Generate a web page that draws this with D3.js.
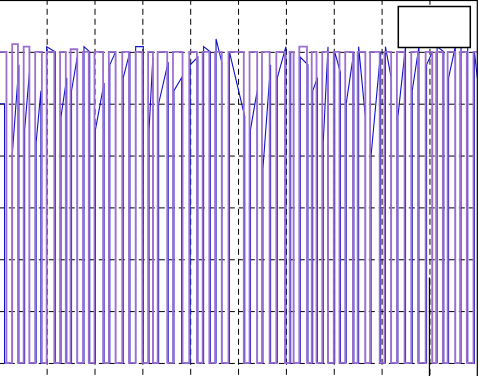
<!DOCTYPE html>
<html>
<head>
<meta charset="utf-8">
<script src="https://cdn.jsdelivr.net/npm/d3@7"></script>
<style>
  body { margin: 0; background: #fff; }
  svg { display: block; }
</style>
</head>
<body>
<div id="chart"></div>
<script>
// time axis ticks (grid every 50) and level ticks (grid every 0.2)
const xTicks = [50, 100, 150, 200, 250, 300, 350, 400, 450];
const yTicks = [0, 0.2, 0.4, 0.6, 0.8, 1.0, 1.2];

// reference signal (purple): low intervals and level while high
const refFall = [8, 20, 32, 45, 58, 70, 82, 94, 109, 122, 136, 150, 161, 176, 192, 207, 220, 233, 256, 270, 283, 299, 308, 322, 332, 344, 356, 370, 383, 398, 410, 424, 438, 453, 464, 477, 489];
const refRise = [14, 26, 38, 50, 64, 75, 88, 100, 115, 129, 143, 156, 166, 182, 199, 213, 226, 240, 262, 275, 290, 304, 314, 327, 338, 350, 362, 375, 388, 403, 416, 431, 446, 457, 469, 482, 496];
const refHigh = [1.23, 1.22, 1.2, 1.2, 1.2, 1.21, 1.2, 1.2, 1.2, 1.2, 1.2, 1.2, 1.2, 1.2, 1.2, 1.2, 1.2, 1.2, 1.2, 1.2, 1.2, 1.2, 1.22, 1.2, 1.2, 1.2, 1.2, 1.2, 1.2, 1.2, 1.2, 1.2, 1.2, 1.2, 1.2, 1.2, 1.2];
const refStart = 1.2;

// measured signal (blue): edges, level after rising, level just before falling
const outFall = [6, 21, 32, 44, 59, 71, 82, 95, 110, 122, 137, 151, 161, 177, 191, 208, 221, 233, 257, 270, 284, 300, 308, 323, 333, 344, 357, 371, 383, 399, 410, 425, 439, 453, 465, 477, 490];
const outRise = [14, 27, 39, 50, 65, 76, 89, 101, 116, 130, 143, 157, 167, 183, 200, 214, 227, 241, 263, 276, 291, 305, 315, 328, 339, 351, 363, 376, 389, 404, 417, 432, 447, 458, 470, 483, 497];
const outKnee = [0.8, 0.9, 0.85, 1.22, 0.95, 1.05, 1.22, 0.9, 1.15, 1.1, 1.22, 0.9, 1.0, 1.05, 1.15, 1.22, 1.25, 1.2, 0.9, 0.75, 1.1, 1.2, 1.18, 1.05, 0.85, 1.2, 1.0, 1.22, 0.8, 1.22, 0.95, 1.05, 1.15, 1.22, 1.1, 1.22, 1.2];
const outTop = [1.0, 1.15, 1.12, 1.05, 1.2, 1.1, 1.18, 1.2, 1.08, 1.2, 1.2, 1.22, 1.18, 1.16, 1.1, 1.18, 1.2, 1.16, 0.95, 1.05, 1.15, 1.22, 1.2, 1.15, 1.1, 1.22, 1.12, 1.2, 0.95, 1.2, 1.1, 1.22, 1.22, 1.2, 1.2, 1.22, 1.22];
const outEnd = 1.1;

// marker line
const markX = [450, 450];
const markY = [-0.2, 0.33];

const width = 479, height = 376;

var svg = d3.select("#chart")
  .append("svg")
  .attr("width", width)
  .attr("height", height);

var x = d3.scaleLinear().domain([0, 500]).range([-1.2, 477.3]);
var y = d3.scaleLinear().domain([-0.2, 1.4]).range([414.8, 0]);

svg.append("defs").append("clipPath")
  .attr("id", "clip")
  .append("rect")
  .attr("x", x(0)).attr("y", y(1.4))
  .attr("width", x(500) - x(0)).attr("height", y(-0.2) - y(1.4));

// grid
var xGrid = d3.axisBottom(x).tickValues(xTicks).tickSize(-(y(-0.2) - y(1.4))).tickFormat("");
var yGrid = d3.axisLeft(y).tickValues(yTicks).tickSize(-(x(500) - x(0))).tickFormat("");

svg.append("g")
  .attr("class", "grid")
  .attr("transform", `translate(0, ${y(-0.2)})`)
  .call(xGrid);
svg.append("g")
  .attr("class", "grid")
  .attr("transform", `translate(${x(0)}, 0)`)
  .call(yGrid);
svg.selectAll(".grid .domain").remove();
svg.selectAll(".grid line")
  .attr("stroke", "#000")
  .attr("stroke-width", 1)
  .attr("stroke-dasharray", "6,4");

// build step-like point lists
var refPts = [[0, refStart]];
refFall.forEach(function (f, i) {
  var prev = i === 0 ? refStart : refHigh[i - 1];
  refPts.push([f, prev], [f, 0], [refRise[i], 0], [refRise[i], refHigh[i]]);
});
refPts.push([500, refHigh[refHigh.length - 1]]);

var outPts = [[0, outTop[0]]];
outFall.forEach(function (f, i) {
  outPts.push([f, outTop[i]], [f, 0], [outRise[i], 0], [outRise[i], outKnee[i]]);
});
outPts.push([500, outEnd]);

var line = d3.line()
  .x(function (d) { return x(d[0]); })
  .y(function (d) { return y(d[1]); });

var plot = svg.append("g").attr("clip-path", "url(#clip)");

plot.append("path")
  .datum(outPts)
  .attr("fill", "none")
  .attr("stroke", "#1010c8")
  .attr("stroke-width", 1.1)
  .attr("d", line);

plot.append("path")
  .datum(refPts)
  .attr("fill", "none")
  .attr("stroke", "#9c70cf")
  .attr("stroke-width", 1.8)
  .attr("d", line);

plot.append("path")
  .datum(markX.map(function (d, i) { return [d, markY[i]]; }))
  .attr("fill", "none")
  .attr("stroke", "#000")
  .attr("stroke-width", 1.2)
  .attr("d", line);

// axes box
svg.append("rect")
  .attr("x", x(0)).attr("y", y(1.4) + 0.5)
  .attr("width", x(500) - x(0)).attr("height", y(-0.2) - y(1.4))
  .attr("fill", "none")
  .attr("stroke", "#000")
  .attr("stroke-width", 1.2);

// legend box (no entries visible)
svg.append("rect")
  .attr("x", x(500) - 79)
  .attr("y", y(1.4) + 6.5)
  .attr("width", 72)
  .attr("height", 41)
  .attr("fill", "#fff")
  .attr("stroke", "#000")
  .attr("stroke-width", 1.5);
</script>
</body>
</html>
